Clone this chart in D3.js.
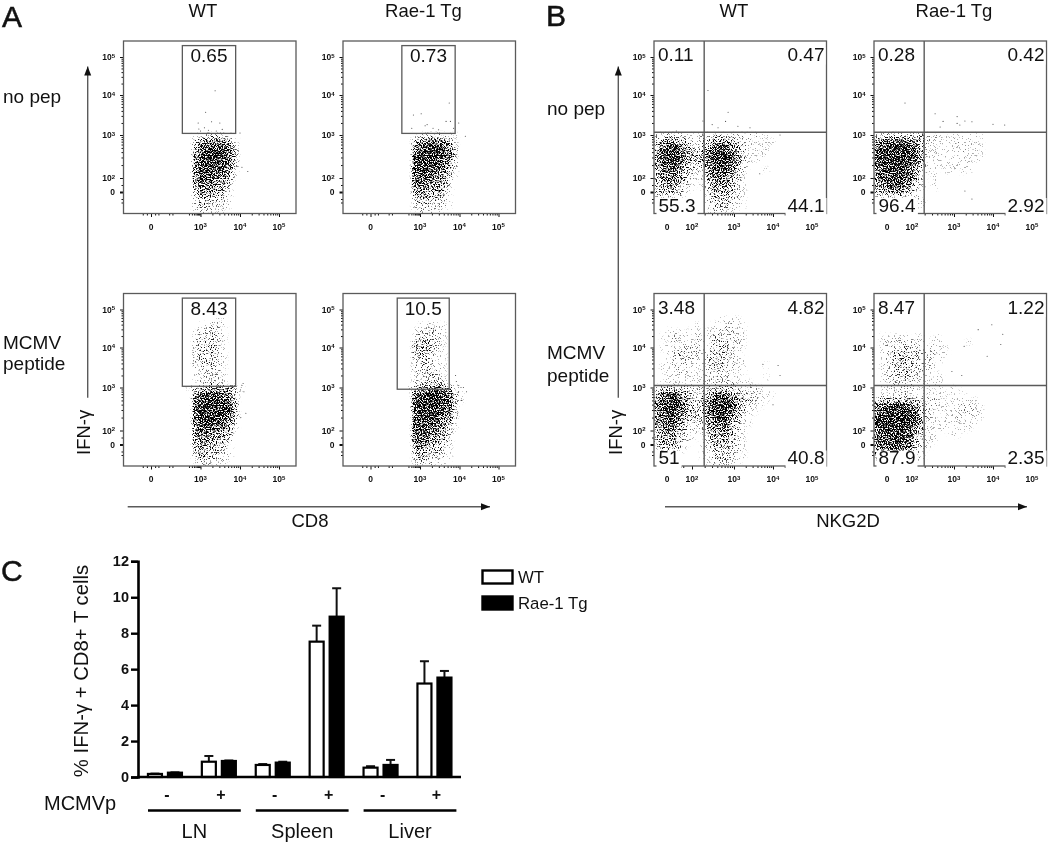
<!DOCTYPE html>
<html>
<head>
<meta charset="utf-8">
<script src="https://cdn.jsdelivr.net/npm/d3@7"></script>
<style>
  body { margin: 0; background: #fff; }
  svg { display: block; filter: blur(0.35px); }
  text { font-family: "Liberation Sans", Arial, sans-serif; fill: #111; }
</style>
</head>
<body>
<svg id="chart" width="1050" height="844"></svg>
<script>
// ---- data ----

// Flow plots: the clouds hold thousands of events, so they are kept as density
// grids read by eye (one digit per cell, 0 = empty, 9 = solid), 30x30 cells per plot.
const cloudA1 = ['0112332100','0356776410','0478998620','0589999730','0689999730','0689998620','0688887510',
  '0688876410','0577765300','0476654200','0365543100','0244332100','0233222100','0122211000'];
const cloudA2 = ['0122332110','0467776510','0689997620','0799998730','0899998730','0899987520','0899876410',
  '0888766310','0787665200','0576554200','0465443100','0344332100','0233222100','0122211000'];
const cloudA3 = ['0000111000','0011221000','0122321000','0222321000','0233321000','0233421000','0233321000',
  '0233321000','0233321000','0122221000','0122221000','0122321000',
  '1345665431','0578887520','0799998730','0899999840','0899999840','0799998730','0789887620',
  '0688776410','0677665300','0566554200','0465443100','0354332100','0243322100','0122211000'];
const cloudA4 = ['0011211000','0122321000','0233221000','0344321000','0344321000','0344211000','0233211000',
  '0233211000','0223321000','0122321000','0223332000',
  '1356776421','0789998731','0899998831','0899998730','0899998720','0899987620','0899876510',
  '0888766310','0888665200','0787554200','0576443100','0454332100','0243222100','0122211000'];

const cloudB1 = ['2232221122332222221100','3466542133566432111110','4789753235888643211100','5899864347999863111100',
  '5899864447999863111000','5889753336898752100000','4778643225888642000100','4677532125777531000000',
  '4566431113666421000000','3555321013655421000000','3444310002544321000000','0000000002444321000000',
  '0000000002333211000000','0000000001222110000000'];
const cloudB2 = ['2333333332211111111000','6788887532111121111000','7899998631111111211000','8999998731111112111000',
  '8999998731111111111000','8999998631111111100000','7899987421101111100000','7889987420100000000000',
  '6788876320100000000000','5677765210100000000000','3455543100000000000000','0000000210000000000000',
  '0000000110000000000000','0000000000000000000000'];
const cloudB3 = ['0000000000011110000000','0000000100112211000000','0011111101122211000000','0112111211332221000000',
  '0012111211333221000000','0111222211333211000000','0012322212333210000000','0012222213332211000000',
  '0112221112332211000100','0111221112222111000000','0011111112222110000100','0111111112222211100000',
  '2333332222333322221000','4688643233677543221110','5899753246889754321100','6899864347999863211000',
  '6899754347999753110000','5788643336898642100000','5778532225778531100000','4677432124677431000000',
  '4566321113666421000000','3555321012555321000000','2444310012444321000000','0222100011333221000000',
  '0000000011333211000000','0000000001222110000000'];
const cloudB4 = ['0000000000000000000000','0111111110110000000000','0122222211110000100000','0122232211211000000000',
  '0123332322211000000000','0123433322110000000000','0123443322100000000000','0123343221100000000000',
  '0122332211110000000000','0112222111110000000000','0112222111110101000000','0111221111111111000000',
  '2444444322211111110000','6789997522211112211000','7899998632111112221000','8999998732111121111000',
  '8999999731111111110000','8999998631111011100000','7899987421100110000000','7889987321100000000000',
  '6788876321000000000000','5677765210000000000000','3466654210000000000000','0000110000000000000000'];

// single events that can be told apart, in decades of the axes: [x, y]
const eventsA1 = [[3.37,4.11],[3.13,3.57],[2.86,3.3],[3.28,3.33],[3.49,3.3],[2.9,3.15],[3,3.1],[3.2,3.12],[3.4,3.1],
  [3.55,3.14],[3.1,3.18],[4,3.05],[4.2,2.15],[4.05,2.25]];
const eventsA2 = [[3.74,3.8],[2.6,3.5],[3.03,3.53],[3.13,3.23],[3.18,3.26],[3.33,3.17],[3.66,3.34],[3.77,3.34],
  [3.98,3.3],[4.15,2.97],[2.5,3.17],[3.47,3.13],[3.85,3.17]];
const eventsA3 = [[4.05,3.05],[4.1,2.9],[4.08,3.1],[4.15,2.4],[4.02,2.3]];
const eventsA4 = [[3.9,3.3],[3.92,3.15],[3.98,3.05],[4.1,3],[4.18,2.9],[4.05,2.7],[3.95,2.4]];
const eventsB1 = [[2.38,4.12],[2.26,3.35],[2.86,3.57],[2.8,3.34],[3.1,3.22],[2.48,3.26],[2.62,3.18],[3.41,3.18],
  [0.75,3.1],[3.66,2.1],[4.18,3]];
const eventsB2 = [[1.44,3.8],[2.55,3.53],[2.74,3.34],[3.08,3.46],[3.08,3.29],[3.15,3.25],[3.28,3.35],[3.46,3.33],
  [4,3.27],[4.3,3.25],[2.67,3.2],[3.28,0.14],[3.46,-1]];
const eventsB3 = [[3.74,3.58],[4.13,3.55],[4.18,3.3],[4,2.6],[3.6,2.75]];
const eventsB4 = [[3.62,4.47],[3.97,4.6],[4.25,4.35],[4.2,4.08],[3.85,3.78],[3.26,4.03],[2.95,3.4],[3.2,3.3]];

const gateA1 = [1.9, 3.89, 3.04, 5.3];   // x0, x1, y0, y1 in decades
const gateA2 = [1.9, 3.89, 3.04, 5.3];
const gateA3 = [1.9, 3.89, 3.03, 5.3];
const gateA4 = [1.62, 3.74, 2.96, 5.3];
const quadX = 2.29;                       // NKG2D split
const quadY = [3.07, 3.07, 3.05, 3.05];   // IFN-g split per plot
const pctA = ['0.65', '0.73', '8.43', '10.5'];
const pctB = [['0.11','0.47','55.3','44.1'], ['0.28','0.42','96.4','2.92'],
              ['3.48','4.82','51','40.8'], ['8.47','1.22','87.9','2.35']];

// bar chart
const conditions = ['-', '+', '-', '+', '-', '+'];
const tissues = ['LN', 'Spleen', 'Liver'];
const genotypes = ['WT', 'Rae-1 Tg'];
const wtValues = [0.17, 0.85, 0.67, 7.53, 0.52, 5.2];
const wtErrors = [0.19, 1.17, 0.72, 8.42, 0.6, 6.44];
const tgValues = [0.24, 0.89, 0.8, 8.92, 0.67, 5.53];
const tgErrors = [0.26, 0.92, 0.85, 10.5, 0.95, 5.9];
const barTicks = [0, 2, 4, 6, 8, 10, 12];

// ---- layout ----
const svg = d3.select('#chart');
const plotSize = 172.5;
const rowTops = [41, 293.5];
const colsA = [123.5, 343];
const colsB = [654, 874];
const grey = '#5a5a5a';

// "0" sits at its own spot on the biexponential axes, 2..5 are decades
const yScale = d3.scaleLinear().domain([0, 2, 3, 4, 5]).range([151, 137, 94, 54, 16]);
const xScaleA = d3.scaleLinear().domain([0, 3, 4, 5]).range([27.5, 77, 116.5, 155.5]);
const xScaleB = d3.scaleLinear().domain([0, 2, 3, 4, 5]).range([13, 38, 80, 119, 158]);

const defs = svg.append('defs');
defs.append('clipPath').attr('id', 'plot-clip').append('rect')
  .attr('width', plotSize).attr('height', plotSize);

// turns the density cells into a dotted look, the grain is only texture
// (baseFrequency must stay off 1.0, noise is flat on whole-number lattices)
const stipple = defs.append('filter').attr('id', 'stipple')
  .attr('x', '-5%').attr('y', '-5%').attr('width', '110%').attr('height', '110%')
  .attr('color-interpolation-filters', 'sRGB');
stipple.append('feGaussianBlur').attr('in', 'SourceGraphic').attr('stdDeviation', 1.6).attr('result', 'dens');
stipple.append('feTurbulence').attr('type', 'fractalNoise').attr('baseFrequency', 0.83)
  .attr('numOctaves', 2).attr('seed', 7).attr('result', 'noise');
stipple.append('feColorMatrix').attr('in', 'noise').attr('type', 'matrix')
  .attr('values', '0 0 0 0 0  0 0 0 0 0  0 0 0 0 0  3.2 0 0 0 -1.15').attr('result', 'grain');
stipple.append('feComposite').attr('in', 'dens').attr('in2', 'grain').attr('operator', 'arithmetic')
  .attr('k1', 0).attr('k2', 1).attr('k3', 1).attr('k4', -1).attr('result', 'raw');
const sharpen = stipple.append('feComponentTransfer').attr('in', 'raw');
sharpen.append('feFuncA').attr('type', 'linear').attr('slope', 2.4).attr('intercept', 0);

function minorTicks(lo, hi) {
  const out = [];
  for (let k = lo; k < hi; k++) {
    for (let d = 2; d < 10; d++) out.push(k + Math.log10(d));
  }
  return out;
}

function decadeLabel(sel, d) {
  if (d === 0) { sel.text('0'); return; }
  sel.text('10');
  sel.append('tspan').attr('dy', -2.5).attr('font-size', 6).text(d);
}

function drawAxes(g, xScale, xMajor) {
  const xg = g.append('g').attr('transform', `translate(0,${plotSize})`);
  xg.append('g').call(d3.axisBottom(xScale)
    .tickValues(minorTicks(2, 5).concat([-0.5, -0.25, 0.25, 0.45, 1.1, 1.3])).tickSize(2).tickFormat(''));
  xg.append('g').call(d3.axisBottom(xScale).tickValues(xMajor).tickSize(3.5).tickFormat(''));
  const yg = g.append('g');
  yg.append('g').call(d3.axisLeft(yScale).tickValues(minorTicks(2, 5).concat([-1, -1.5, 1])).tickSize(2).tickFormat(''));
  yg.append('g').call(d3.axisLeft(yScale).tickValues([2, 3, 4, 5]).tickSize(3.5).tickFormat(''));
  yg.append('g').call(d3.axisLeft(yScale).tickValues([0]).tickSize(3.5).tickFormat(''))
    .selectAll('line').attr('stroke-width', 2);
  g.selectAll('.domain').remove();
  g.selectAll('.tick line').attr('stroke', '#111');

  xMajor.forEach(d => {
    g.append('text').attr('x', xScale(d)).attr('y', plotSize + 16)
      .attr('text-anchor', 'middle').attr('font-size', 8.5).attr('font-weight', 'bold')
      .call(decadeLabel, d);
  });
  [0, 2, 3, 4, 5].forEach(d => {
    g.append('text').attr('x', -8.5).attr('y', yScale(d) + 3)
      .attr('text-anchor', 'end').attr('font-size', 8.5).attr('font-weight', 'bold')
      .call(decadeLabel, d);
  });
}

function drawCloud(g, rows, firstCol, points, xScale) {
  const firstRow = 30 - rows.length;
  const band = d3.scaleBand().domain(d3.range(30)).range([0, plotSize]);
  const cells = [];
  rows.forEach((row, r) => {
    row.split('').forEach((c, i) => {
      if (+c > 0) cells.push({ row: firstRow + r, col: firstCol + i, v: +c });
    });
  });
  g.append('g').attr('clip-path', 'url(#plot-clip)')
    .append('g').attr('filter', 'url(#stipple)')
    .selectAll('rect').data(cells).join('rect')
    .attr('x', d => band(d.col)).attr('y', d => band(d.row))
    .attr('width', band.bandwidth() + 0.1).attr('height', band.bandwidth() + 0.1)
    .attr('fill', '#000').attr('fill-opacity', d => Math.pow(d.v / 9, 0.9));
  g.append('g').selectAll('circle').data(points).join('circle')
    .attr('cx', d => xScale(d[0])).attr('cy', d => yScale(d[1]))
    .attr('r', 0.55).attr('fill', '#444');
}

function drawFrame(g) {
  g.append('rect').attr('width', plotSize).attr('height', plotSize)
    .attr('fill', 'none').attr('stroke', grey).attr('stroke-width', 1.3);
}

function maskedLabel(g, txt, x, y, anchor, pad) {
  const t = g.append('text').attr('x', x).attr('y', y).attr('text-anchor', anchor)
    .attr('font-size', 19).text(txt);
  const b = t.node().getBBox();
  g.insert('rect', 'text.none')
    .attr('x', b.x - pad).attr('y', y - 13.5).attr('width', b.width + 2 * pad)
    .attr('height', 17 + (pad > 1.5 ? 3 : 0)).attr('fill', '#fff');
  t.raise();
}

// ---- panel A ----
const cloudsA = [cloudA1, cloudA2, cloudA3, cloudA4];
const eventsA = [eventsA1, eventsA2, eventsA3, eventsA4];
const gatesA = [gateA1, gateA2, gateA3, gateA4];
cloudsA.forEach((rows, i) => {
  const g = svg.append('g')
    .attr('transform', `translate(${colsA[i % 2]},${rowTops[i >> 1]})`);
  drawCloud(g, rows, 11, eventsA[i], xScaleA);
  drawAxes(g, xScaleA, [0, 3, 4, 5]);
  drawFrame(g);
  const [x0, x1, y0, y1] = gatesA[i];
  g.append('rect')
    .attr('x', xScaleA(x0)).attr('y', yScale(y1))
    .attr('width', xScaleA(x1) - xScaleA(x0)).attr('height', yScale(y0) - yScale(y1))
    .attr('fill', 'none').attr('stroke', grey).attr('stroke-width', 1.3);
  maskedLabel(g, pctA[i], (xScaleA(x0) + xScaleA(x1)) / 2, 21, 'middle', 1);
});

// ---- panel B ----
const cloudsB = [cloudB1, cloudB2, cloudB3, cloudB4];
const eventsB = [eventsB1, eventsB2, eventsB3, eventsB4];
cloudsB.forEach((rows, i) => {
  const g = svg.append('g')
    .attr('transform', `translate(${colsB[i % 2]},${rowTops[i >> 1]})`);
  drawCloud(g, rows, 0, eventsB[i], xScaleB);
  drawAxes(g, xScaleB, [0, 2, 3, 4, 5]);
  drawFrame(g);
  g.append('line').attr('x1', xScaleB(quadX)).attr('x2', xScaleB(quadX)).attr('y1', 0).attr('y2', plotSize)
    .attr('stroke', grey).attr('stroke-width', 1.4);
  g.append('line').attr('x1', 0).attr('x2', plotSize).attr('y1', yScale(quadY[i])).attr('y2', yScale(quadY[i]))
    .attr('stroke', grey).attr('stroke-width', 1.4);
  maskedLabel(g, pctB[i][0], 4, 20, 'start', 1);
  maskedLabel(g, pctB[i][1], plotSize - 2, 20, 'end', 1);
  maskedLabel(g, pctB[i][2], 4.5, 170.5, 'start', 2);
  maskedLabel(g, pctB[i][3], plotSize - 2, 170.5, 'end', 2);
});

// ---- shared labels and arrows ----
function label(txt, x, y, size, opts = {}) {
  return svg.append('text').attr('x', x).attr('y', y).attr('font-size', size)
    .attr('text-anchor', opts.anchor || 'start').text(txt);
}

function arrow(x1, y1, x2, y2) {
  svg.append('line').attr('x1', x1).attr('y1', y1).attr('x2', x2).attr('y2', y2)
    .attr('stroke', grey).attr('stroke-width', 1.4);
  const p = x1 === x2 ? `${x2 - 3.5},${y2 + 9} ${x2 + 3.5},${y2 + 9} ${x2},${y2}`
                      : `${x2 - 9},${y2 - 3.5} ${x2 - 9},${y2 + 3.5} ${x2},${y2}`;
  svg.append('polygon').attr('points', p).attr('fill', '#111');
}

['A', 'B', 'C'].forEach((t, i) => {
  label(t, [2, 546, 1][i], [27, 26, 581][i], 30).attr('stroke', '#111').attr('stroke-width', 0.5);
});

[[203, 'WT'], [423.5, 'Rae-1 Tg'], [734, 'WT'], [954, 'Rae-1 Tg']].forEach(d => {
  label(d[1], d[0], 17, 18.5, { anchor: 'middle' });
});
label('no pep', 3, 103, 19);
label('MCMV', 3, 349, 19);
label('peptide', 3, 370, 19);
label('no pep', 547, 115, 19);
label('MCMV', 547, 359, 19);
label('peptide', 547, 381.5, 19);

arrow(87.7, 397.7, 87.7, 66.5);
arrow(618.3, 397.7, 618.3, 66.5);
arrow(127.7, 506.7, 490, 506.7);
arrow(665, 506.7, 1027, 506.7);
label('CD8', 310, 527, 18.5, { anchor: 'middle' });
label('NKG2D', 848, 527, 18.5, { anchor: 'middle' });
[[90, 455], [622, 455]].forEach(d => {
  svg.append('text').attr('transform', `translate(${d[0]},${d[1]}) rotate(-90)`)
    .attr('font-size', 18.5).text('IFN-γ');
});

// ---- panel C ----
const barY = d3.scaleLinear().domain([0, 12]).range([777, 561.3]);
const barX = d3.scaleBand().domain(d3.range(conditions.length)).range([138, 461.4]);
const pairX = d3.scaleBand().domain(genotypes).range([-18, 18]).paddingInner(0.2);

const barAxis = svg.append('g').attr('transform', 'translate(138,0)')
  .call(d3.axisLeft(barY).tickValues(barTicks).tickSize(7).tickPadding(2).tickFormat(d3.format('d')));
barAxis.select('.domain').attr('stroke', '#000').attr('stroke-width', 2.6);
barAxis.selectAll('.tick line').attr('stroke', '#000').attr('stroke-width', 2.4);
barAxis.selectAll('.tick text').attr('font-size', 14.5).attr('font-weight', 'bold')
  .style('font-family', '"Liberation Sans", Arial, sans-serif');

const series = [
  { name: genotypes[0], values: wtValues, errors: wtErrors, fill: '#fff' },
  { name: genotypes[1], values: tgValues, errors: tgErrors, fill: '#000' }
];
series.forEach(s => {
  const g = svg.append('g');
  s.values.forEach((v, i) => {
    const cx = barX(i) + barX.bandwidth() / 2 + pairX(s.name) + pairX.bandwidth() / 2;
    g.append('line').attr('x1', cx).attr('x2', cx).attr('y1', barY(v)).attr('y2', barY(s.errors[i]))
      .attr('stroke', '#111').attr('stroke-width', 2);
    g.append('line').attr('x1', cx - 4.5).attr('x2', cx + 4.5).attr('y1', barY(s.errors[i])).attr('y2', barY(s.errors[i]))
      .attr('stroke', '#111').attr('stroke-width', 2);
    g.append('rect')
      .attr('x', cx - pairX.bandwidth() / 2 + 1).attr('y', barY(v))
      .attr('width', pairX.bandwidth() - 2).attr('height', barY(0) - barY(v))
      .attr('fill', s.fill).attr('stroke', '#000').attr('stroke-width', 2.2);
  });
});

svg.append('line').attr('x1', 137).attr('x2', 461).attr('y1', barY(0)).attr('y2', barY(0))
  .attr('stroke', '#000').attr('stroke-width', 2.6);

svg.append('text').attr('transform', 'translate(87.5,671) rotate(-90)')
  .attr('text-anchor', 'middle').attr('font-size', 20.3).text('% IFN-γ + CD8+ T cells');

conditions.forEach((c, i) => {
  label(c, barX(i) + barX.bandwidth() / 2 + 2, 800, 16, { anchor: 'middle' }).attr('font-weight', 'bold');
});
label('MCMVp', 44, 810, 20);

tissues.forEach((t, i) => {
  const left = barX(i * 2) + 10;
  const right = barX(i * 2 + 1) + barX.bandwidth() - 5;
  svg.append('line').attr('x1', left).attr('x2', right).attr('y1', 810.5).attr('y2', 810.5)
    .attr('stroke', '#000').attr('stroke-width', 2.6);
  label(t, (left + right) / 2, 838, 20, { anchor: 'middle' });
});

// legend
genotypes.forEach((name, i) => {
  const y = 570 + i * 26;
  svg.append('rect').attr('x', 482.5).attr('y', y + 0.5).attr('width', 30).attr('height', 13)
    .attr('fill', series[i].fill).attr('stroke', '#000').attr('stroke-width', 2.4);
  label(name, 518, y + 12.5, 16.8);
});
</script>
</body>
</html>
